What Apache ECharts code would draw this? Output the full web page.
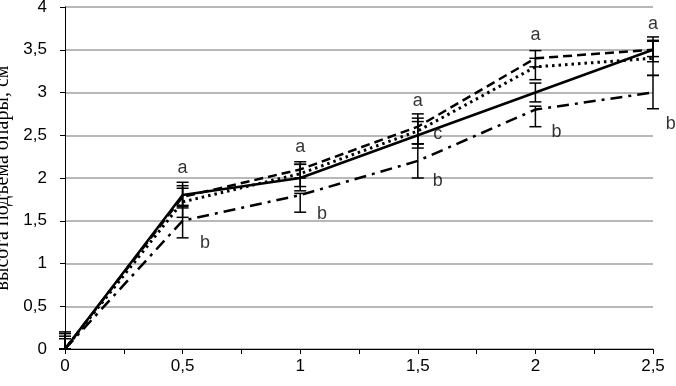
<!DOCTYPE html>
<html>
<head>
<meta charset="utf-8">
<script src="https://cdn.jsdelivr.net/npm/echarts@6/dist/echarts.min.js"></script>
<style>html,body{margin:0;padding:0;background:#fff}#c{width:676px;height:386px}</style>
</head>
<body>
<div id="c"></div>
<script>
var xValues = [0, 0.5, 1, 1.5, 2, 2.5];
var solidValues   = [0, 1.8, 2.0, 2.5, 3.0, 3.5];
var dashedValues  = [0, 1.78, 2.1, 2.6, 3.4, 3.5];
var dottedValues  = [0, 1.72, 2.05, 2.55, 3.3, 3.4];
var dashDotValues = [0, 1.5, 1.8, 2.2, 2.8, 3.0];

var solidLow   = [0, 1.65, 1.85, 2.35, 2.89, 3.42];
var solidHigh  = [0.2, 1.95, 2.16, 2.66, 3.11, 3.61];
var dashedLow  = [0, 1.68, 2.0, 2.4, 3.3, 3.36];
var dashedHigh = [0.18, 1.88, 2.19, 2.75, 3.49, 3.65];
var dottedLow  = [0, 1.54, 1.9, 2.4, 3.15, 3.2];
var dottedHigh = [0.15, 1.91, 2.16, 2.7, 3.4, 3.6];
var dashDotLow  = [0, 1.3, 1.6, 2.0, 2.6, 2.81];
var dashDotHigh = [0.12, 1.67, 1.82, 2.4, 2.84, 3.2];

var letterX    = [0.5, 0.595, 1.0, 1.093, 1.5, 1.585, 1.585, 2.0, 2.09, 2.5, 2.575];
var letterY    = [2.12, 1.24, 2.36, 1.58, 2.9, 2.52, 1.97, 3.67, 2.54, 3.8, 2.63];
var letterText = ['a', 'b', 'a', 'b', 'a', 'c', 'b', 'a', 'b', 'a', 'b'];

var yTitle = 'высота подъема опары, см';

function pairs(ys) { return xValues.map(function (x, i) { return [x, ys[i]]; }); }
function errData(lo, hi) { return xValues.map(function (x, i) { return [x, lo[i], hi[i]]; }); }

function errSeries(lo, hi) {
  return {
    type: 'custom',
    data: errData(lo, hi),
    encode: { x: 0, y: [1, 2] },
    clip: false,
    z: 3,
    renderItem: function (params, api) {
      var x = api.value(0);
      var pLo = api.coord([x, api.value(1)]);
      var pHi = api.coord([x, api.value(2)]);
      var w = 6;
      var st = { stroke: '#000', lineWidth: 1.5 };
      return {
        type: 'group',
        children: [
          { type: 'line', shape: { x1: pLo[0], y1: pLo[1], x2: pHi[0], y2: pHi[1] }, style: st },
          { type: 'line', shape: { x1: pLo[0] - w, y1: pLo[1], x2: pLo[0] + w, y2: pLo[1] }, style: st },
          { type: 'line', shape: { x1: pHi[0] - w, y1: pHi[1], x2: pHi[0] + w, y2: pHi[1] }, style: st }
        ]
      };
    }
  };
}

function lineSeries(ys, type, width) {
  return {
    type: 'line',
    data: pairs(ys),
    symbol: 'none',
    z: 4,
    lineStyle: { color: '#000', width: width, type: type, cap: 'butt' }
  };
}

var chart = echarts.init(document.getElementById('c'), null, { renderer: 'canvas' });
chart.setOption({
  animation: false,
  backgroundColor: '#fff',
  grid: { left: 65, right: 23, top: 7, bottom: 37, containLabel: false, outerBoundsMode: 'none' },
  xAxis: {
    type: 'value', min: 0, max: 2.5, interval: 0.25,
    axisLine: { show: true, lineStyle: { color: '#000', width: 1 } },
    axisTick: { show: true, length: 5, lineStyle: { color: '#000' } },
    splitLine: { show: false },
    axisLabel: {
      color: '#000', fontFamily: 'Liberation Sans', fontSize: 17, margin: 9,
      formatter: function (v) {
        if (Math.abs(v * 2 - Math.round(v * 2)) > 1e-6) return '';
        return String(v).replace('.', ',');
      }
    }
  },
  yAxis: {
    type: 'value', min: 0, max: 4, interval: 0.5,
    name: yTitle, nameLocation: 'middle', nameRotate: 90, nameGap: 52,
    nameTextStyle: { color: '#000', fontFamily: 'Liberation Serif', fontSize: 20 },
    axisLine: { show: true, lineStyle: { color: '#000', width: 1 } },
    axisTick: { show: true, length: 5, lineStyle: { color: '#000' } },
    splitLine: { show: true, lineStyle: { color: '#a0a0a0', width: 1.5 } },
    axisLabel: {
      color: '#000', fontFamily: 'Liberation Sans', fontSize: 17, margin: 18,
      formatter: function (v) { return String(v).replace('.', ','); }
    }
  },
  series: [
    errSeries(solidLow, solidHigh),
    errSeries(dashedLow, dashedHigh),
    errSeries(dottedLow, dottedHigh),
    errSeries(dashDotLow, dashDotHigh),
    lineSeries(solidValues, 'solid', 2.5),
    lineSeries(dashedValues, [9, 5], 2.5),
    lineSeries(dottedValues, [2.5, 4], 3),
    lineSeries(dashDotValues, [12, 6, 3, 6], 2.5),
    {
      type: 'scatter',
      data: letterX.map(function (x, i) { return { value: [x, letterY[i]], name: letterText[i] }; }),
      symbolSize: 0,
      clip: false,
      z: 5,
      label: {
        show: true, position: 'inside', color: '#000',
        fontFamily: 'Liberation Sans', fontSize: 18,
        formatter: function (p) { return p.name; }
      }
    }
  ]
});
</script>
</body>
</html>
